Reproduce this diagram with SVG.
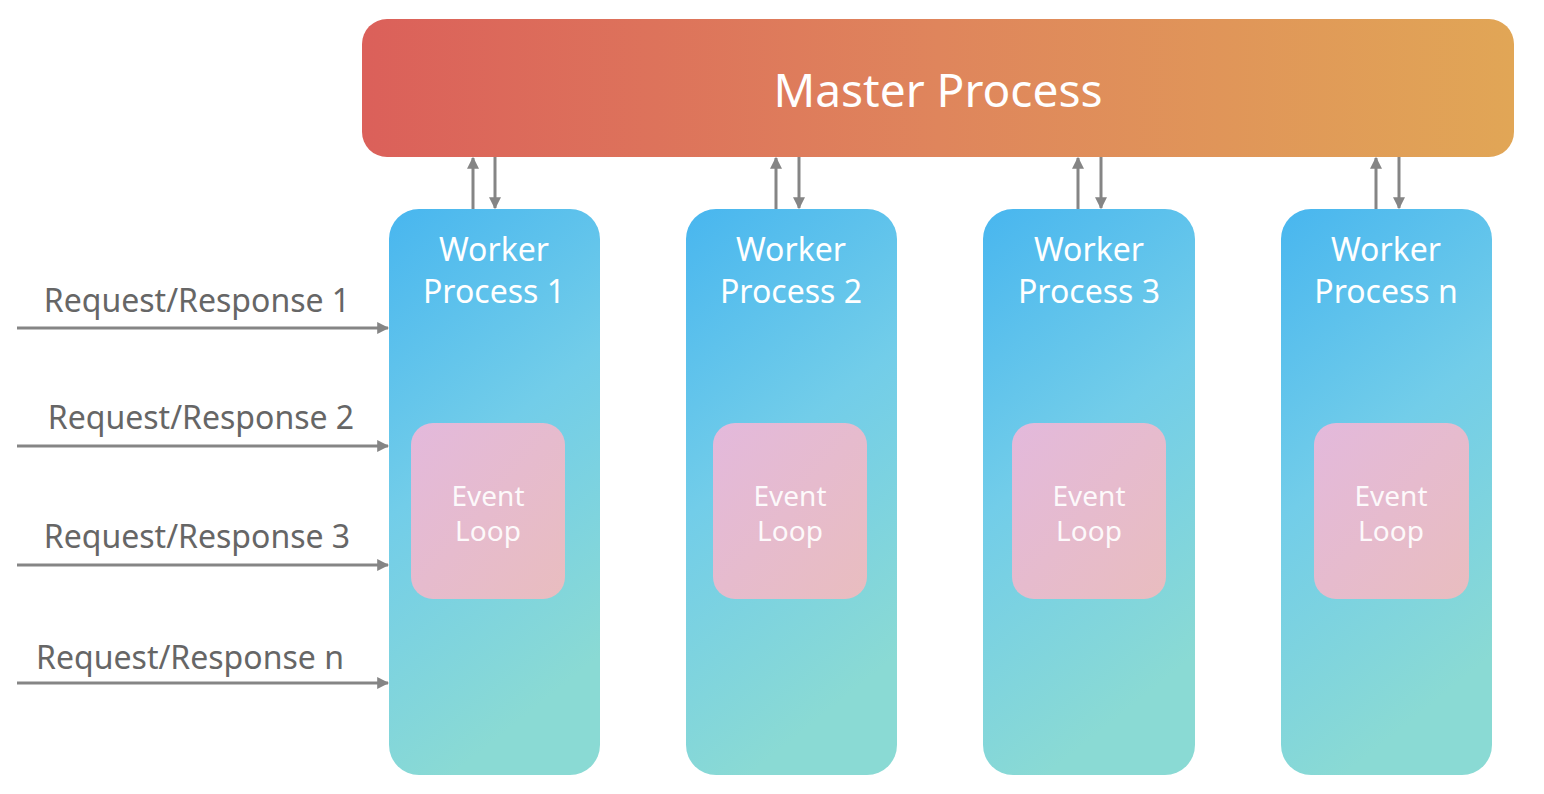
<svg xmlns="http://www.w3.org/2000/svg" width="1544" height="794" viewBox="0 0 1544 794">
<style>
.wt{font-family:"Noto Sans","Open Sans",sans-serif;font-size:32px;fill:#ffffff;text-anchor:middle}
.et{font-family:"Noto Sans","Open Sans",sans-serif;font-size:28px;fill:#ffffff;text-anchor:middle;opacity:0.92}
.rt{font-family:"Noto Sans","Open Sans",sans-serif;font-size:32px;fill:#666666;text-anchor:middle}
.ln{stroke:#858585;stroke-width:3;fill:none}
</style>
<defs>
<linearGradient id="gm" x1="0" y1="0" x2="1" y2="0">
<stop offset="0" stop-color="#db605a"/>
<stop offset="0.5" stop-color="#df855c"/>
<stop offset="1" stop-color="#e1a656"/>
</linearGradient>
<linearGradient id="gw" x1="0" y1="0" x2="0.3" y2="1">
<stop offset="0" stop-color="#48b6ef"/>
<stop offset="0.5" stop-color="#72cde9"/>
<stop offset="1" stop-color="#8adad4"/>
</linearGradient>
<linearGradient id="ge" x1="0" y1="0" x2="1" y2="1">
<stop offset="0" stop-color="#e3b9dc"/>
<stop offset="1" stop-color="#e9bdbf"/>
</linearGradient>
<marker id="ah" viewBox="0 0 10 10" refX="9" refY="5" markerWidth="4" markerHeight="4" orient="auto-start-reverse" markerUnits="strokeWidth">
<path d="M0,0 L10,5 L0,10 z" fill="#858585"/>
</marker>
</defs>
<rect width="1544" height="794" fill="#ffffff"/>
<g id="master">
<rect x="362" y="19" width="1152" height="138" rx="25" fill="url(#gm)"/>
<text x="938" y="107" font-family="'Noto Sans','Open Sans',sans-serif" font-size="46" fill="#ffffff" text-anchor="middle">Master Process</text>
</g>
<g id="worker1">
<rect x="389" y="209" width="211" height="566" rx="30" fill="url(#gw)"/>
<text class="wt" x="494" y="261">Worker</text>
<text class="wt" x="494" y="303">Process 1</text>
</g>
<g id="loop1">
<rect x="411" y="423" width="154" height="176" rx="22" fill="url(#ge)"/>
<text class="et" x="488" y="506">Event</text>
<text class="et" x="488" y="541">Loop</text>
</g>
<g id="worker2">
<rect x="686" y="209" width="211" height="566" rx="30" fill="url(#gw)"/>
<text class="wt" x="791" y="261">Worker</text>
<text class="wt" x="791" y="303">Process 2</text>
</g>
<g id="loop2">
<rect x="713" y="423" width="154" height="176" rx="22" fill="url(#ge)"/>
<text class="et" x="790" y="506">Event</text>
<text class="et" x="790" y="541">Loop</text>
</g>
<g id="worker3">
<rect x="983" y="209" width="212" height="566" rx="30" fill="url(#gw)"/>
<text class="wt" x="1089" y="261">Worker</text>
<text class="wt" x="1089" y="303">Process 3</text>
</g>
<g id="loop3">
<rect x="1012" y="423" width="154" height="176" rx="22" fill="url(#ge)"/>
<text class="et" x="1089" y="506">Event</text>
<text class="et" x="1089" y="541">Loop</text>
</g>
<g id="worker4">
<rect x="1281" y="209" width="211" height="566" rx="30" fill="url(#gw)"/>
<text class="wt" x="1386" y="261">Worker</text>
<text class="wt" x="1386" y="303">Process n</text>
</g>
<g id="loop4">
<rect x="1314" y="423" width="155" height="176" rx="22" fill="url(#ge)"/>
<text class="et" x="1391" y="506">Event</text>
<text class="et" x="1391" y="541">Loop</text>
</g>
<g id="connectors">
<line class="ln" x1="473" y1="209" x2="473" y2="158" marker-end="url(#ah)"/>
<line class="ln" x1="495" y1="157" x2="495" y2="208" marker-end="url(#ah)"/>
<line class="ln" x1="776" y1="209" x2="776" y2="158" marker-end="url(#ah)"/>
<line class="ln" x1="799" y1="157" x2="799" y2="208" marker-end="url(#ah)"/>
<line class="ln" x1="1078" y1="209" x2="1078" y2="158" marker-end="url(#ah)"/>
<line class="ln" x1="1101" y1="157" x2="1101" y2="208" marker-end="url(#ah)"/>
<line class="ln" x1="1376" y1="209" x2="1376" y2="158" marker-end="url(#ah)"/>
<line class="ln" x1="1399" y1="157" x2="1399" y2="208" marker-end="url(#ah)"/>
<line class="ln" x1="17" y1="328" x2="388" y2="328" marker-end="url(#ah)"/>
<line class="ln" x1="17" y1="446" x2="388" y2="446" marker-end="url(#ah)"/>
<line class="ln" x1="17" y1="565" x2="388" y2="565" marker-end="url(#ah)"/>
<line class="ln" x1="17" y1="683" x2="388" y2="683" marker-end="url(#ah)"/>
</g>
<g id="labels">
<text class="rt" x="197" y="312">Request/Response 1</text>
<text class="rt" x="201" y="429">Request/Response 2</text>
<text class="rt" x="197" y="548">Request/Response 3</text>
<text class="rt" x="190" y="669">Request/Response n</text>
</g>
</svg>
